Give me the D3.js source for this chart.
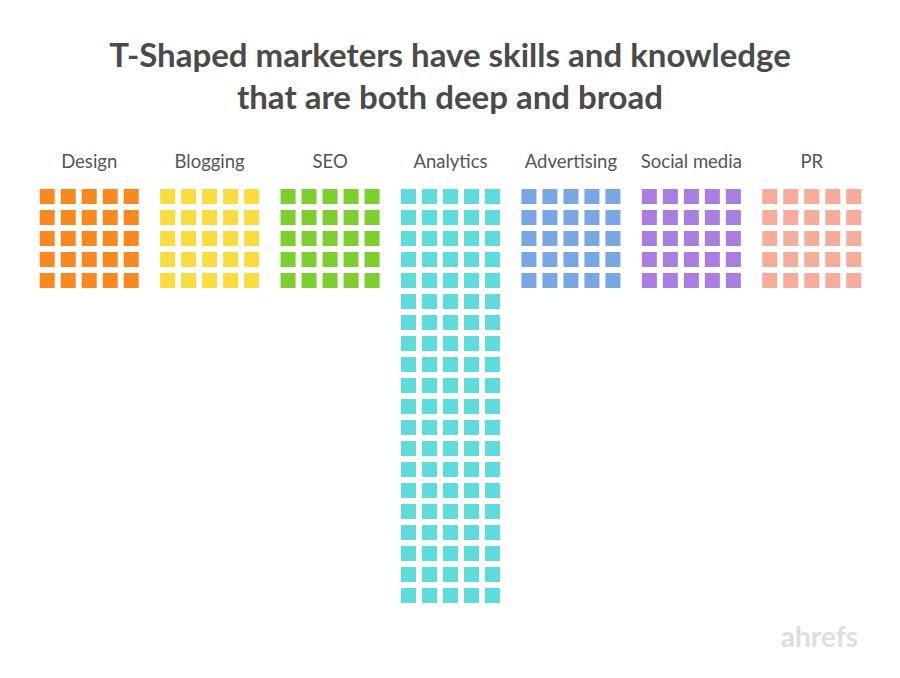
<!DOCTYPE html>
<html><head><meta charset="utf-8">
<script src="https://cdn.jsdelivr.net/npm/d3@7"></script>
<style>body{margin:0;background:#fff}</style>
</head><body><svg id="c" width="900" height="678"></svg>
<script>
const categories = ["Design","Blogging","SEO","Analytics","Advertising","Social media","PR"];
const squareCounts = [25,25,25,100,25,25,25];
const colors = ["#f7891f","#fbdc3f","#7ccf2e","#5edcdc","#79a7e3","#a97ee0","#f5ac9b"];
const titleLines = ["T-Shaped marketers have skills and knowledge","that are both deep and broad"];

const svg = d3.select('#c');
const cols = 5, cell = 21, size = 15;

svg.selectAll('text.title').data(titleLines).join('text')
  .attr('class','title')
  .attr('x',450).attr('y',(d,i)=>67+i*42)
  .attr('text-anchor','middle')
  .attr('font-family','Lato, sans-serif').attr('font-weight','bold')
  .attr('font-size',33).attr('fill','#4a4a4a')
  .text(d=>d);

const x = d3.scaleBand().domain(categories).range([29,872]);

const groups = svg.selectAll('g.cat').data(categories).join('g')
  .attr('class','cat')
  .attr('transform', d=>`translate(${x(d)+x.bandwidth()/2},0)`);

groups.append('text')
  .attr('y',168).attr('text-anchor','middle')
  .attr('font-family','Lato, sans-serif').attr('font-size',18.5).attr('fill','#555')
  .text(d=>d);

groups.each(function(d,i){
  const cells = d3.range(squareCounts[i]);
  d3.select(this).selectAll('rect').data(cells).join('rect')
    .attr('x', k=>(k%cols - 2)*cell - size/2)
    .attr('y', k=>189 + Math.floor(k/cols)*cell)
    .attr('width',size).attr('height',size)
    .attr('fill',colors[i]);
});

svg.append('text')
  .attr('x',858).attr('y',647).attr('text-anchor','end')
  .attr('font-family','Lato, sans-serif').attr('font-weight','bold')
  .attr('font-size',28).attr('fill','#dedede')
  .text('ahrefs');
</script></body></html>
